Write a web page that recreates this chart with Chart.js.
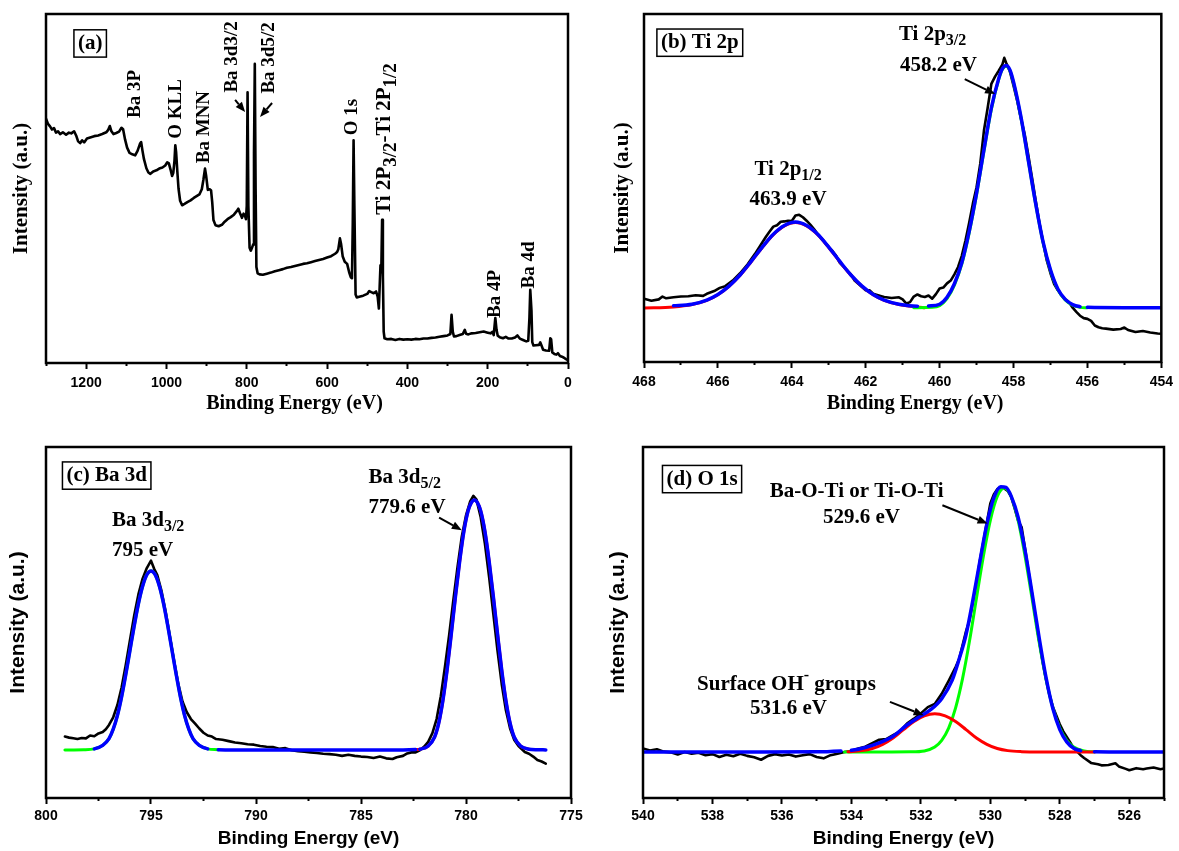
<!DOCTYPE html>
<html>
<head>
<meta charset="utf-8">
<title>XPS spectra</title>
<script src="https://cdn.jsdelivr.net/npm/chart.js@4.4.1/dist/chart.umd.min.js"></script>
<style>
  body { margin: 0; background: #fff; }
  canvas { position: absolute; }
</style>
</head>
<body>
<canvas id="panelA" width="590" height="420" style="left:0;top:0"></canvas>
<canvas id="panelB" width="589" height="420" style="left:590px;top:0"></canvas>
<canvas id="panelC" width="590" height="431" style="left:0;top:420px"></canvas>
<canvas id="panelD" width="589" height="431" style="left:590px;top:420px"></canvas>
<script>
// (a) survey scan
const surveyEnergy = [
  1300, 1295, 1290, 1285, 1280, 1275, 1270, 1265, 1258, 1250,
  1243, 1237, 1230, 1225, 1220, 1215, 1210, 1205, 1198, 1190,
  1180, 1170, 1160, 1150, 1145, 1141, 1137, 1132, 1125, 1118,
  1112, 1108, 1103, 1098, 1092, 1085, 1078, 1072, 1066, 1063,
  1060, 1056, 1050, 1045, 1040, 1033, 1025, 1018, 1010, 1003,
  998, 994, 990, 986, 983, 980, 978, 976, 973, 970,
  966, 961, 955, 948, 940, 932, 925, 918, 912, 908,
  904, 901, 897, 893, 889, 886, 883, 878, 870, 862,
  855, 848, 840, 832, 825, 821, 817, 812, 808, 804,
  802, 800, 798, 796, 793, 790, 787, 784, 782, 780,
  778, 776, 773, 768, 760, 750, 740, 730, 720, 710,
  700, 690, 680, 670, 660, 650, 640, 630, 620, 610,
  600, 590, 580, 575, 572, 568, 565, 561, 556, 550,
  545, 541, 538, 536, 534, 532, 529, 526, 520, 510,
  500, 495, 490, 484, 478, 474, 471, 469, 467, 465,
  463, 461, 459, 457, 450, 440, 430, 420, 410, 400,
  390, 380, 370, 360, 350, 340, 330, 320, 310, 300,
  293, 290, 287, 284, 278, 270, 262, 257, 254, 248,
  240, 230, 220, 210, 200, 193, 188, 185, 181, 178,
  175, 170, 162, 155, 148, 140, 132, 126, 120, 112,
  104, 99, 96, 94, 91, 89, 86, 80, 72, 69,
  66, 62, 55, 47, 44, 42, 39, 34, 29, 25,
  20, 15, 10, 5, 0
];
const surveyCounts = [
  70.0, 68.5, 67.8, 66.9, 67.3, 66.0, 66.4, 65.6, 66.1, 65.4,
  66.0, 65.8, 66.4, 65.2, 63.5, 63.0, 63.8, 63.2, 64.3, 64.6,
  65.0, 65.2, 65.6, 66.1, 66.8, 67.9, 66.4, 65.6, 65.9, 66.3,
  67.4, 67.0, 64.0, 61.7, 60.2, 59.8, 59.5, 60.8, 62.8, 63.3,
  61.0, 58.4, 55.8, 54.6, 54.2, 54.9, 55.2, 55.7, 56.0, 56.6,
  57.5, 57.2, 55.5, 53.6, 54.5, 58.0, 62.4, 60.5, 55.0, 50.0,
  46.5, 45.2, 45.6, 46.1, 46.6, 47.3, 47.8, 48.3, 49.8, 52.5,
  55.7, 53.5, 49.6, 49.8, 49.5, 46.0, 41.0, 39.5, 39.2, 39.6,
  40.5, 41.2, 41.8, 42.5, 43.5, 44.2, 43.0, 41.6, 42.8, 42.0,
  41.2, 45.0, 77.6, 45.0, 33.0, 32.2, 33.0, 34.0, 60.0, 85.7,
  50.0, 27.5, 25.7, 25.4, 25.3, 25.6, 25.9, 26.3, 26.6, 26.9,
  27.3, 27.5, 27.8, 28.1, 28.4, 28.6, 28.9, 29.2, 29.5, 29.8,
  30.2, 30.6, 31.3, 31.8, 32.6, 35.7, 34.0, 30.5, 29.0, 28.4,
  26.0, 24.6, 24.3, 40.0, 63.8, 45.0, 19.6, 18.8, 19.0, 19.3,
  19.8, 20.6, 20.3, 20.0, 20.5, 19.0, 15.6, 22.0, 28.0, 26.0,
  41.0, 25.0, 9.0, 7.1, 6.8, 6.9, 6.6, 6.9, 6.7, 6.8,
  6.7, 6.9, 6.8, 7.0, 7.0, 7.2, 7.3, 7.5, 7.7, 7.9,
  8.3, 13.8, 9.0, 7.6, 7.7, 8.0, 8.3, 9.5, 8.4, 8.2,
  8.5, 8.6, 8.8, 9.0, 8.7, 8.5, 8.9, 8.0, 12.9, 9.5,
  7.8, 7.4, 7.1, 7.5, 7.0, 7.0, 7.3, 7.9, 7.0, 6.6,
  6.2, 6.4, 13.0, 21.0, 15.0, 6.0, 5.0, 5.1, 5.2, 5.9,
  5.0, 3.8, 3.6, 3.5, 7.1, 6.8, 3.0, 2.6, 2.4, 2.8,
  2.0, 1.8, 1.5, 1.1, 0.8
];

// (b) Ti 2p region
const tiEnergy = [
  468.0, 467.8, 467.6, 467.5, 467.4, 467.2, 467.0, 466.8, 466.6, 466.4,
  466.3, 466.1, 465.95, 465.8, 465.6, 465.4, 465.2, 465.0, 464.85, 464.7,
  464.6, 464.5, 464.4, 464.3, 464.2, 464.1, 464.0, 463.9, 463.8, 463.7,
  463.6, 463.5, 463.4, 463.3, 463.2, 463.0, 462.9, 462.8, 462.7, 462.6,
  462.5, 462.4, 462.3, 462.2, 462.0, 461.9, 461.8, 461.6, 461.5, 461.3,
  461.1, 461.0, 460.9, 460.8, 460.7, 460.6, 460.5, 460.4, 460.3, 460.2,
  460.1, 460.0, 459.9, 459.8, 459.7, 459.6, 459.5, 459.4, 459.3, 459.2,
  459.1, 459.0, 458.9, 458.8, 458.7, 458.6, 458.5, 458.4, 458.3, 458.25,
  458.2, 458.1, 458.0, 457.9, 457.8, 457.7, 457.6, 457.5, 457.4, 457.3,
  457.2, 457.1, 457.0, 456.9, 456.8, 456.7, 456.6, 456.5, 456.4, 456.3,
  456.2, 456.1, 456.0, 455.9, 455.8, 455.7, 455.6, 455.5, 455.3, 455.1,
  455.0, 454.9, 454.7, 454.5, 454.3, 454.1, 454.0
];
const tiCounts = [
  18.2, 17.6, 18.0, 18.8, 18.3, 18.6, 18.8, 18.9, 19.2, 19.0,
  19.6, 20.4, 21.3, 21.8, 23.4, 25.5, 28.0, 31.0, 33.5, 36.0,
  37.5, 38.9, 39.3, 40.3, 40.4, 40.6, 40.5, 42.1, 42.3, 41.6,
  40.6, 39.5, 38.2, 36.8, 35.6, 33.0, 31.9, 30.5, 28.5, 27.4,
  26.3, 25.2, 23.4, 22.5, 20.6, 20.6, 19.6, 19.0, 18.7, 18.4,
  18.6, 18.0, 16.8, 17.2, 18.8, 19.4, 18.9, 18.7, 19.1, 18.2,
  19.5, 21.1, 21.4, 22.6, 23.4, 25.2, 27.3, 30.5, 34.9, 40.0,
  45.5, 50.2, 57.0, 66.5, 73.0, 79.9, 82.0, 83.7, 85.5, 87.4,
  86.0, 83.6, 79.4, 75.0, 70.0, 65.6, 59.5, 53.0, 46.4, 40.0,
  34.5, 29.2, 25.5, 22.4, 20.6, 19.2, 18.0, 17.2, 15.6, 14.4,
  13.3, 12.6, 12.4, 11.8, 10.5, 10.0, 9.7, 9.6, 9.3, 9.5,
  9.9, 9.2, 8.6, 8.9, 8.5, 8.2, 8.1
];
const tiFitEnergy = [
  468.0, 467.2, 466.7, 466.3, 466.0, 465.7, 465.4, 465.1, 464.8, 464.5,
  464.2, 463.9, 463.6, 463.3, 463.0, 462.7, 462.4, 462.1, 461.8, 461.5,
  461.1, 460.6, 460.3, 460.0, 459.8, 459.6, 459.4, 459.2, 459.0, 458.8,
  458.6, 458.4, 458.3, 458.2, 458.1, 458.0, 457.8, 457.6, 457.4, 457.2,
  457.0, 456.8, 456.6, 456.4, 456.2, 456.0, 455.0, 454.0
];
const tiFitCounts = [
  15.8, 16.2, 16.6, 17.8, 19.4, 21.8, 25.0, 28.9, 33.0, 36.7,
  39.2, 40.2, 39.2, 36.7, 33.0, 28.9, 25.0, 21.8, 19.4, 17.8,
  16.6, 16.0, 16.1, 16.6, 18.6, 22.5, 28.5, 37.5, 48.5, 61.0,
  73.0, 81.5, 84.3, 85.2, 84.0, 80.5, 70.5, 58.0, 45.5, 34.5,
  26.5, 21.0, 18.0, 16.5, 15.9, 15.7, 15.6, 15.6
];
const ti12Energy = [
  468.0, 467.2, 466.7, 466.3, 466.0, 465.7, 465.4, 465.1, 464.8, 464.5,
  464.2, 463.9, 463.6, 463.3, 463.0, 462.7, 462.4, 462.1, 461.8, 461.5,
  461.1, 460.6, 460.4
];
const ti12Counts = [
  15.5, 15.8, 16.5, 17.7, 19.3, 21.7, 24.9, 28.8, 32.9, 36.6,
  39.1, 40.1, 39.1, 36.6, 32.9, 28.8, 24.9, 21.7, 19.3, 17.7,
  16.5, 15.8, 15.6
];
const ti32Energy = [
  460.7, 460.2, 460.0, 459.8, 459.6, 459.4, 459.2, 459.0, 458.8, 458.6,
  458.4, 458.3, 458.2, 458.1, 458.0, 457.8, 457.6, 457.4, 457.2, 457.0,
  456.8, 456.6, 456.4, 456.2, 456.0
];
const ti32Counts = [
  15.6, 15.7, 16.2, 18.2, 22.1, 28.1, 37.1, 48.1, 60.6, 72.6,
  81.2, 84.1, 85.0, 83.8, 80.3, 70.3, 57.8, 45.3, 34.3, 26.3,
  20.8, 17.8, 16.3, 15.7, 15.6
];

// (c) Ba 3d region
const baEnergy = [
  799.1, 798.9, 798.7, 798.5, 798.3, 798.1, 797.9, 797.7, 797.5, 797.3,
  797.15, 797.0, 796.8, 796.6, 796.4, 796.2, 796.0, 795.8, 795.6, 795.4,
  795.2, 795.0, 794.85, 794.7, 794.5, 794.3, 794.1, 793.9, 793.7, 793.5,
  793.3, 793.1, 792.9, 792.7, 792.5, 792.3, 792.1, 791.9, 791.6, 791.3,
  791.0, 790.7, 790.4, 790.1, 789.8, 789.5, 789.2, 788.9, 788.6, 788.3,
  788.0, 787.7, 787.4, 787.1, 786.8, 786.5, 786.2, 785.9, 785.6, 785.3,
  785.0, 784.7, 784.4, 784.1, 783.8, 783.5, 783.3, 783.0, 782.8, 782.6,
  782.4, 782.2, 782.0, 781.8, 781.6, 781.4, 781.2, 781.0, 780.8, 780.6,
  780.4, 780.2, 780.0, 779.8, 779.65, 779.5, 779.3, 779.1, 778.9, 778.7,
  778.5, 778.3, 778.1, 777.9, 777.7, 777.5, 777.2, 777.0, 776.8, 776.6,
  776.4, 776.2
];
const baCounts = [
  17.5, 17.2, 17.0, 16.8, 17.1, 17.0, 17.8, 17.6, 18.4, 18.8,
  19.6, 20.8, 23.0, 26.5, 31.5, 38.0, 45.0, 52.0, 58.0, 62.5,
  65.5, 67.6, 65.3, 63.5, 59.0, 53.0, 46.0, 39.0, 32.5, 27.5,
  24.5, 22.5, 21.2, 19.8, 18.6, 17.8, 17.5, 16.8, 16.6, 16.2,
  15.8, 15.6, 15.3, 15.2, 14.8, 14.6, 14.5, 14.0, 14.2, 13.6,
  13.3, 13.2, 13.0, 12.8, 12.6, 12.5, 12.3, 12.0, 12.3, 12.0,
  11.8, 11.7, 11.4, 11.8, 11.3, 11.1, 11.6, 12.0, 12.7, 13.0,
  13.0, 13.6, 14.6, 16.0, 18.5, 22.5, 29.0, 37.5, 46.5, 56.5,
  66.0, 74.5, 80.5, 84.5, 86.1, 85.0, 80.0, 72.5, 63.0, 52.5,
  42.0, 32.5, 25.0, 19.8, 16.5, 14.8, 13.1, 12.6, 11.8, 10.8,
  10.4, 9.8
];
const baFitEnergy = [
  799.1, 798.2, 797.7, 797.3, 797.0, 796.8, 796.6, 796.4, 796.2, 796.0,
  795.8, 795.6, 795.4, 795.2, 795.0, 794.8, 794.6, 794.4, 794.2, 794.0,
  793.8, 793.6, 793.4, 793.2, 793.0, 792.7, 792.3, 791.8, 791.0, 788.0,
  785.0, 783.0, 782.4, 782.2, 781.8, 781.5, 781.3, 781.1, 780.9, 780.7,
  780.5, 780.3, 780.1, 779.9, 779.75, 779.6, 779.45, 779.3, 779.1, 778.9,
  778.7, 778.5, 778.3, 778.1, 777.9, 777.7, 777.4, 777.0, 776.6, 776.2
];
const baFitCounts = [
  13.7, 13.75, 14.0, 15.0, 16.9, 19.6, 23.5, 28.8, 35.2, 42.1,
  49.0, 55.3, 60.3, 63.6, 64.7, 63.6, 60.3, 55.3, 49.0, 42.1,
  35.2, 28.8, 23.5, 19.6, 16.9, 15.0, 14.0, 13.75, 13.7, 13.7,
  13.7, 13.7, 13.8, 13.9, 14.8, 17.3, 21.3, 27.8, 36.5, 46.8,
  57.5, 67.5, 76.0, 81.8, 84.1, 84.9, 84.1, 81.8, 76.0, 67.5,
  57.5, 46.8, 36.5, 27.8, 21.3, 17.3, 14.8, 13.9, 13.75, 13.7
];
const ba32Energy = [
  799.1, 798.2, 797.7, 797.3, 797.0, 796.8, 796.6, 796.4, 796.2, 796.0,
  795.8, 795.6, 795.4, 795.2, 795.0, 794.8, 794.6, 794.4, 794.2, 794.0,
  793.8, 793.6, 793.4, 793.2, 793.0, 792.7, 792.3, 791.8
];
const ba32Counts = [
  13.7, 13.75, 14.0, 15.0, 16.9, 19.6, 23.5, 28.8, 35.2, 42.1,
  49.0, 55.3, 60.3, 63.6, 64.7, 63.6, 60.3, 55.3, 49.0, 42.1,
  35.2, 28.8, 23.5, 19.6, 16.9, 15.0, 14.0, 13.75
];
const ba52Energy = [
  782.4, 782.2, 781.8, 781.5, 781.3, 781.1, 780.9, 780.7, 780.5, 780.3,
  780.1, 779.9, 779.75, 779.6, 779.45, 779.3, 779.1, 778.9, 778.7, 778.5,
  778.3, 778.1, 777.9, 777.7, 777.4, 777.0
];
const ba52Counts = [
  13.8, 13.9, 14.8, 17.3, 21.3, 27.8, 36.5, 46.8, 57.5, 67.5,
  76.0, 81.8, 84.1, 84.9, 84.1, 81.8, 76.0, 67.5, 57.5, 46.8,
  36.5, 27.8, 21.3, 17.3, 14.8, 13.9
];

// (d) O 1s region
const oEnergy = [
  540.0, 539.8, 539.6, 539.4, 539.2, 539.0, 538.8, 538.6, 538.4, 538.2,
  538.0, 537.8, 537.6, 537.4, 537.2, 537.0, 536.8, 536.6, 536.4, 536.2,
  536.0, 535.8, 535.6, 535.4, 535.2, 535.0, 534.8, 534.6, 534.4, 534.2,
  534.0, 533.8, 533.6, 533.4, 533.2, 533.0, 532.8, 532.6, 532.4, 532.2,
  532.0, 531.8, 531.6, 531.4, 531.2, 531.0, 530.9, 530.8, 530.7, 530.6,
  530.5, 530.4, 530.3, 530.2, 530.1, 530.0, 529.9, 529.8, 529.7, 529.6,
  529.5, 529.4, 529.3, 529.2, 529.1, 529.0, 528.9, 528.8, 528.7, 528.6,
  528.5, 528.4, 528.3, 528.2, 528.0, 527.9, 527.8, 527.7, 527.6, 527.4,
  527.3, 527.1, 526.9, 526.8, 526.6, 526.4, 526.3, 526.1, 526.0, 525.8,
  525.6, 525.5, 525.3, 525.1, 525.0
];
const oCounts = [
  14.1, 13.5, 13.9, 13.2, 13.0, 12.4, 13.1, 12.6, 12.9, 12.2,
  12.5, 11.7, 12.3, 11.9, 12.6, 12.0, 11.6, 10.9, 12.0, 12.5,
  12.1, 12.4, 11.8, 12.2, 12.5, 11.7, 11.3, 12.2, 12.6, 13.1,
  13.4, 14.1, 14.6, 15.6, 16.6, 16.8, 17.9, 19.0, 21.2, 22.6,
  24.1, 25.9, 26.8, 29.7, 33.4, 37.3, 39.5, 43.5, 47.5, 50.6,
  56.0, 61.5, 67.7, 73.0, 78.5, 83.9, 86.5, 88.0, 88.6, 88.2,
  87.5, 85.8, 82.5, 79.0, 77.2, 71.0, 64.5, 58.2, 51.5, 45.0,
  39.2, 34.0, 29.5, 26.0, 21.0, 19.0, 17.4, 15.8, 14.2, 12.2,
  11.4, 10.0, 9.6, 9.3, 9.4, 9.9, 9.0, 8.3, 7.9, 8.5,
  8.2, 8.4, 8.7, 8.2, 8.4
];
const oFitEnergy = [
  540.0, 537.0, 535.0, 534.3, 534.0, 533.6, 533.2, 532.8, 532.4, 532.0,
  531.7, 531.4, 531.1, 530.9, 530.7, 530.5, 530.3, 530.1, 529.9, 529.7,
  529.55, 529.4, 529.2, 529.0, 528.8, 528.6, 528.4, 528.2, 528.0, 527.8,
  527.6, 527.4, 527.0, 526.0, 525.0
];
const oFitCounts = [
  13.1, 13.1, 13.15, 13.4, 13.6, 14.4, 15.7, 17.6, 20.8, 23.4,
  25.3, 28.3, 33.5, 39.5, 46.5, 56.5, 67.5, 78.0, 85.5, 88.7,
  88.5, 86.0, 80.0, 70.5, 58.5, 46.0, 34.5, 25.5, 19.5, 16.0,
  14.2, 13.5, 13.15, 13.1, 13.1
];
const oLatticeEnergy = [
  534.2, 533.0, 532.3, 531.9, 531.6, 531.4, 531.2, 531.0, 530.8, 530.6,
  530.4, 530.2, 530.0, 529.8, 529.6, 529.4, 529.2, 529.0, 528.8, 528.6,
  528.4, 528.2, 528.0, 527.8, 527.6, 527.3, 527.0
];
const oLatticeCounts = [
  13.1, 13.12, 13.15, 13.4, 14.5, 16.4, 19.9, 25.7, 34.0, 44.7,
  56.9, 68.9, 79.1, 85.9, 88.3, 85.9, 79.1, 68.9, 56.9, 44.7,
  34.0, 25.7, 19.9, 16.4, 14.5, 13.4, 13.15
];
const oHydroxylEnergy = [
  534.1, 533.7, 533.4, 533.1, 532.8, 532.5, 532.2, 531.9, 531.6, 531.3,
  531.0, 530.7, 530.4, 530.1, 529.8, 529.5, 529.1, 528.6, 527.0
];
const oHydroxylCounts = [
  13.2, 13.5, 14.1, 15.3, 17.1, 19.5, 21.8, 23.4, 24.0, 23.4,
  21.8, 19.5, 17.1, 15.3, 14.1, 13.5, 13.2, 13.1, 13.1
];

const SERIF = '"Liberation Serif", "Times New Roman", serif';
const SANS = '"Liberation Sans", Arial, sans-serif';
const BLACK = '#000000', BLUE = '#0000ff', RED = '#ff0000', GREEN = '#00ff00';
const NBSP5 = '\u00a0\u00a0\u00a0\u00a0\u00a0';

function trace(xs, ys, color, width, order, smooth, segment) {
  return {
    data: xs.map((e, i) => ({ x: e, y: ys[i] })),
    borderColor: color,
    borderWidth: width,
    order,
    pointRadius: 0,
    fill: false,
    tension: 0,
    cubicInterpolationMode: smooth ? 'monotone' : 'default',
    borderJoinStyle: 'round',
    borderCapStyle: 'round',
    segment
  };
}

// where the envelope sits on the baseline over a fitted component, let the component colour show
function envelopeSegments(base, components) {
  const spans = components.map(xs => [Math.min(...xs), Math.max(...xs)]);
  return {
    borderColor: c => {
      const hi = Math.max(c.p0.parsed.y, c.p1.parsed.y);
      const mid = (c.p0.parsed.x + c.p1.parsed.x) / 2;
      const covered = spans.some(([a, b]) => mid >= a && mid <= b);
      return covered && hi <= base + 0.65 ? 'rgba(0,0,0,0)' : undefined;
    }
  };
}

function drawNote(ctx, n, px, py) {
  const size = n.size || 21;
  const small = Math.round(size * (n.subScale || 0.75));
  const fontOf = k => 'bold ' + (k === 'n' ? size : small) + 'px ' + SERIF;
  ctx.save();
  ctx.translate(px, py);
  if (n.rotate) ctx.rotate(-Math.PI / 2);
  ctx.fillStyle = BLACK;
  ctx.strokeStyle = BLACK;
  ctx.textAlign = 'left';
  ctx.textBaseline = 'middle';
  let w = 0;
  n.parts.forEach(([t, k]) => { ctx.font = fontOf(k); w += ctx.measureText(t).width; });
  let cx = n.align === 'left' ? 0 : -w / 2;
  if (n.box) {
    ctx.lineWidth = 1.5;
    ctx.strokeRect(cx - 4, -size * 0.66, w + 8, size * 1.3);
  }
  n.parts.forEach(([t, k]) => {
    ctx.font = fontOf(k);
    const dy = k === 'sub' ? size * 0.3 : k === 'sup' ? -size * 0.38 : 0;
    ctx.fillText(t, cx, dy);
    cx += ctx.measureText(t).width;
  });
  ctx.restore();
}

function drawArrow(ctx, x1, y1, x2, y2) {
  const ang = Math.atan2(y2 - y1, x2 - x1);
  const head = 10, half = 4;
  const bx = x2 - head * Math.cos(ang), by = y2 - head * Math.sin(ang);
  ctx.save();
  ctx.strokeStyle = BLACK;
  ctx.fillStyle = BLACK;
  ctx.lineWidth = 2;
  ctx.beginPath();
  ctx.moveTo(x1, y1);
  ctx.lineTo(bx, by);
  ctx.stroke();
  ctx.beginPath();
  ctx.moveTo(x2, y2);
  ctx.lineTo(bx + half * Math.sin(ang), by - half * Math.cos(ang));
  ctx.lineTo(bx - half * Math.sin(ang), by + half * Math.cos(ang));
  ctx.closePath();
  ctx.fill();
  ctx.restore();
}

const framePlugin = {
  id: 'frame',
  afterDatasetsDraw(chart) {
    const { ctx, chartArea: a } = chart;
    ctx.save();
    ctx.lineWidth = 2.5;
    ctx.strokeStyle = BLACK;
    ctx.strokeRect(a.left, a.top, a.right - a.left, a.bottom - a.top);
    ctx.restore();
  }
};

function notesPlugin(notes, arrows) {
  return {
    id: 'notes',
    afterDraw(chart) {
      const { ctx, scales: { x, y } } = chart;
      notes.forEach(n => drawNote(ctx, n, x.getPixelForValue(n.e), y.getPixelForValue(n.i)));
      arrows.forEach(a => drawArrow(ctx,
        x.getPixelForValue(a[0]), y.getPixelForValue(a[1]),
        x.getPixelForValue(a[2]), y.getPixelForValue(a[3])));
    }
  };
}

function buildPanel(id, p) {
  const isMajor = v => Math.abs(v / p.major - Math.round(v / p.major)) < 1e-6;
  return new Chart(document.getElementById(id), {
    type: 'line',
    data: { datasets: p.datasets },
    options: {
      responsive: false,
      animation: false,
      devicePixelRatio: 1,
      events: [],
      layout: { autoPadding: false, padding: { left: 0, top: p.top, right: p.right, bottom: 0 } },
      plugins: { legend: { display: false }, tooltip: { enabled: false } },
      scales: {
        x: {
          type: 'linear',
          reverse: true,
          min: p.min,
          max: p.max,
          afterFit: s => { s.height = p.xHeight; },
          border: { display: false },
          grid: {
            drawOnChartArea: false,
            tickLength: 6,
            tickColor: BLACK,
            tickWidth: 2,
            tickBorderDash: c => (c.tick && isMajor(c.tick.value)) ? [] : [3, 20]
          },
          ticks: {
            stepSize: p.minor,
            autoSkip: false,
            maxRotation: 0,
            padding: p.tickPad,
            color: BLACK,
            font: { family: SANS, size: 14, weight: 'bold' },
            callback: v => isMajor(v) ? String(Math.round(v)) : ''
          },
          title: {
            display: true,
            text: p.xTitle,
            color: BLACK,
            font: { family: p.titleFont, size: p.xSize, weight: 'bold' },
            padding: { top: 0, bottom: p.xPad }
          }
        },
        y: {
          min: 0,
          max: 100,
          afterFit: s => { s.width = p.yWidth; },
          border: { display: false },
          grid: { display: false },
          ticks: { display: false },
          title: {
            display: true,
            text: 'Intensity (a.u.)',
            color: BLACK,
            font: { family: p.titleFont, size: 21, weight: 'bold' },
            padding: { top: p.yPad, bottom: 0 }
          }
        }
      }
    },
    plugins: [framePlugin, notesPlugin(p.notes, p.arrows)]
  });
}

buildPanel('panelA', {
  top: 14, right: 22, yWidth: 46, xHeight: 57,
  min: 0, max: 1300, minor: 100, major: 200, tickPad: 6,
  xTitle: 'Binding Energy (eV)' + NBSP5,
  titleFont: SERIF, xSize: 20, xPad: 4, yPad: 9,
  datasets: [trace(surveyEnergy, surveyCounts, BLACK, 2.6, 1, false)],
  notes: [
    { parts: [['(a)', 'n']], e: 1190, i: 91.5, box: true },
    { parts: [['Ba 3P', 'n']], e: 1078, i: 77.1, size: 19, rotate: true },
    { parts: [['O KLL', 'n']], e: 976, i: 72.8, size: 19, rotate: true },
    { parts: [['Ba MNN', 'n']], e: 907, i: 67.6, size: 19, rotate: true },
    { parts: [['Ba 3d3/2', 'n']], e: 837, i: 87.7, size: 19, rotate: true },
    { parts: [['Ba 3d5/2', 'n']], e: 745, i: 87.4, size: 19, rotate: true },
    { parts: [['O 1s', 'n']], e: 538, i: 70.5, size: 19, rotate: true },
    { parts: [['Ti 2P', 'n'], ['3/2', 'sub'], ['-Ti 2P', 'n'], ['1/2', 'sub']], e: 456, i: 64.2, size: 21, subScale: 0.9, rotate: true },
    { parts: [['Ba 4P', 'n']], e: 182, i: 19.8, size: 19, rotate: true },
    { parts: [['Ba 4d', 'n']], e: 97, i: 28.1, size: 19, rotate: true }
  ],
  arrows: [[829, 75.4, 804, 71.9], [737, 74.5, 767, 70.5]]
});

buildPanel('panelB', {
  top: 14, right: 15, yWidth: 54, xHeight: 58,
  min: 454, max: 468, minor: 1, major: 2, tickPad: 6,
  xTitle: NBSP5 + 'Binding Energy (eV)',
  titleFont: SERIF, xSize: 20, xPad: 4, yPad: 20,
  datasets: [
    trace(tiFitEnergy, tiFitCounts, BLUE, 3.5, 1, true, envelopeSegments(15.6, [ti12Energy, ti32Energy])),
    trace(ti32Energy, ti32Counts, GREEN, 3, 2, true),
    trace(ti12Energy, ti12Counts, RED, 3, 3, true),
    trace(tiEnergy, tiCounts, BLACK, 2.6, 4, false)
  ],
  notes: [
    { parts: [['(b) Ti 2p', 'n']], e: 466.49, i: 91.7, box: true },
    { parts: [['Ti 2p', 'n'], ['3/2', 'sub']], e: 460.19, i: 94.0 },
    { parts: [['458.2 eV', 'n']], e: 460.03, i: 85.1 },
    { parts: [['Ti 2p', 'n'], ['1/2', 'sub']], e: 464.10, i: 55.2 },
    { parts: [['463.9 eV', 'n']], e: 464.10, i: 46.6 }
  ],
  arrows: [[459.32, 81.3, 458.5, 77.0]]
});

buildPanel('panelC', {
  top: 27, right: 19, yWidth: 46, xHeight: 53,
  min: 775, max: 800, minor: 2.5, major: 5, tickPad: 4,
  xTitle: 'Binding Energy (eV)',
  titleFont: SANS, xSize: 19, xPad: 1, yPad: 6,
  datasets: [
    trace(baFitEnergy, baFitCounts, BLUE, 3.5, 1, true, envelopeSegments(13.7, [ba32Energy, ba52Energy])),
    trace(ba32Energy, ba32Counts, GREEN, 3, 2, true),
    trace(ba52Energy, ba52Counts, RED, 3, 3, true),
    trace(baEnergy, baCounts, BLACK, 2.6, 4, false)
  ],
  notes: [
    { parts: [['(c) Ba 3d', 'n']], e: 797.11, i: 91.8, box: true },
    { parts: [['Ba 3d', 'n'], ['3/2', 'sub']], e: 796.86, i: 79.0, align: 'left' },
    { parts: [['795 eV', 'n']], e: 796.86, i: 70.4, align: 'left' },
    { parts: [['Ba 3d', 'n'], ['5/2', 'sub']], e: 784.64, i: 91.3, align: 'left' },
    { parts: [['779.6 eV', 'n']], e: 784.64, i: 82.6, align: 'left' }
  ],
  arrows: [[781.28, 79.9, 780.2, 76.3]]
});

buildPanel('panelD', {
  top: 27, right: 15, yWidth: 53, xHeight: 53,
  min: 525, max: 540, minor: 1, major: 2, tickPad: 4,
  xTitle: 'Binding Energy (eV)',
  titleFont: SANS, xSize: 19, xPad: 1, yPad: 16,
  datasets: [
    trace(oFitEnergy, oFitCounts, BLUE, 3.5, 1, true, envelopeSegments(13.1, [oLatticeEnergy, oHydroxylEnergy])),
    trace(oHydroxylEnergy, oHydroxylCounts, RED, 3, 2, true),
    trace(oLatticeEnergy, oLatticeCounts, GREEN, 3, 3, true),
    trace(oEnergy, oCounts, BLACK, 2.6, 4, false)
  ],
  notes: [
    { parts: [['(d) O 1s', 'n']], e: 538.30, i: 90.8, box: true },
    { parts: [['Ba-O-Ti or Ti-O-Ti', 'n']], e: 533.85, i: 87.2 },
    { parts: [['529.6 eV', 'n']], e: 533.71, i: 79.9 },
    { parts: [['Surface OH', 'n'], ['-', 'sup'], [' groups', 'n']], e: 535.87, i: 32.4 },
    { parts: [['531.6 eV', 'n']], e: 535.81, i: 25.4 }
  ],
  arrows: [[531.38, 83.4, 530.08, 78.2], [532.89, 27.4, 531.92, 23.6]]
});
</script>
</body>
</html>
